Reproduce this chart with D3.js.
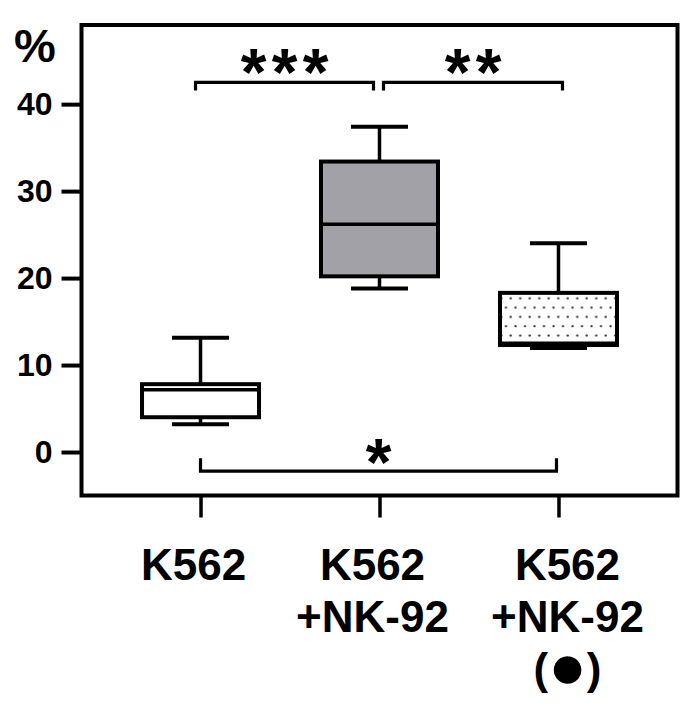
<!DOCTYPE html>
<html>
<head>
<meta charset="utf-8">
<script src="https://cdn.jsdelivr.net/npm/d3@7"></script>
<style>
html,body{margin:0;padding:0;background:#fff;}
svg{display:block;}
text{font-family:"Liberation Sans",Arial,sans-serif;font-weight:bold;fill:#000;}
</style>
</head>
<body>
<svg id="chart" width="696" height="711"></svg>
<script>
// ---- data ----
const categories = ["K562", "K562+NK-92", "K562+NK-92(●)"];
const labelLines = [["K562"], ["K562", "+NK-92"], ["K562", "+NK-92", "(●)"]];
const whiskerLow  = [3.2, 18.8, 11.95];
const q1          = [4.0, 20.2, 12.3];
const median      = [7.15, 26.2, 12.5];
const q3          = [7.8, 33.4, 18.3];
const whiskerHigh = [13.15, 37.4, 24.0];
const fills       = ["white", "gray", "dots"];
const yTicks = [0, 10, 20, 30, 40];
const yDomain = [-5, 49.1];
const yUnit = "%";
// significance brackets: [from category, to category, level (y value), stars]
const sigFrom  = [0, 1, 0];
const sigTo    = [1, 2, 2];
const sigLevel = [42.5, 42.5, -2.2];
const sigStars = ["***", "**", "*"];

// ---- layout ----
const svg = d3.select("#chart");
const frame = {left: 81.5, top: 25, right: 677.5, bottom: 495.5};

const y = d3.scaleLinear().domain(yDomain).range([frame.bottom, frame.top]);
const x = d3.scalePoint().domain(categories).range([frame.left, frame.right]).padding(0.665);

const boxW = 117, capW = 57;

// pattern for dotted box
const defs = svg.append("defs");
const pat = defs.append("pattern").attr("id", "dots").attr("patternUnits", "userSpaceOnUse")
  .attr("width", 9.5).attr("height", 18.6).attr("x", 0).attr("y", 5);
pat.append("rect").attr("width", 9.5).attr("height", 18.6).attr("fill", "#fff");
pat.append("circle").attr("cx", 2.5).attr("cy", 5).attr("r", 1.2).attr("fill", "#333");
pat.append("circle").attr("cx", 7.25).attr("cy", 14.3).attr("r", 1.2).attr("fill", "#333");

const fillFor = f => f === "gray" ? "#a2a1a7" : f === "dots" ? "url(#dots)" : "#fff";

// frame
svg.append("rect")
  .attr("x", frame.left).attr("y", frame.top)
  .attr("width", frame.right - frame.left).attr("height", frame.bottom - frame.top)
  .attr("fill", "none").attr("stroke", "#000").attr("stroke-width", 4);

// y axis
const yAxis = d3.axisLeft(y).tickValues(yTicks).tickSize(20).tickPadding(9).tickFormat(d3.format("d"));
const gy = svg.append("g").attr("transform", `translate(${frame.left},0)`).call(yAxis);
gy.select(".domain").remove();
gy.selectAll(".tick line").attr("stroke", "#000").attr("stroke-width", 4);
gy.selectAll(".tick text").attr("font-size", 32).attr("font-weight", "bold")
  .attr("font-family", '"Liberation Sans", Arial, sans-serif').attr("fill", "#000");

svg.append("text").attr("x", 14).attr("y", 62).attr("font-size", 47).text(yUnit);

// x axis
const xAxis = d3.axisBottom(x).tickSize(22).tickFormat("");
const gx = svg.append("g").attr("transform", `translate(0,${frame.bottom})`).call(xAxis);
gx.select(".domain").remove();
gx.selectAll(".tick line").attr("stroke", "#000").attr("stroke-width", 3.5);

const labelShift = [-7, -7, 9];
categories.forEach((c, i) => {
  labelLines[i].forEach((ln, j) => {
    const t = svg.append("text").attr("text-anchor", "middle").attr("font-size", 44)
      .attr("x", x(c) + labelShift[i]).attr("y", 580 + j * 52);
    if (ln.includes("●")) {
      const parts = ln.split("●");
      t.append("tspan").text(parts[0]);
      t.append("tspan").attr("font-size", 64).attr("dy", 4).text("●");
      t.append("tspan").attr("dy", -4).text(parts[1]);
    } else {
      t.text(ln);
    }
  });
});

// boxes
categories.forEach((c, i) => {
  const cx = x(c);
  const g = svg.append("g");
  g.append("line").attr("x1", cx).attr("x2", cx).attr("y1", y(q3[i])).attr("y2", y(whiskerHigh[i]))
    .attr("stroke", "#000").attr("stroke-width", 3.5);
  g.append("line").attr("x1", cx).attr("x2", cx).attr("y1", y(q1[i])).attr("y2", y(whiskerLow[i]))
    .attr("stroke", "#000").attr("stroke-width", 3.5);
  [whiskerHigh[i], whiskerLow[i]].forEach(v => {
    g.append("line").attr("x1", cx - capW / 2).attr("x2", cx + capW / 2).attr("y1", y(v)).attr("y2", y(v))
      .attr("stroke", "#000").attr("stroke-width", 4);
  });
  g.append("rect").attr("x", cx - boxW / 2).attr("width", boxW)
    .attr("y", y(q3[i])).attr("height", y(q1[i]) - y(q3[i]))
    .attr("fill", fillFor(fills[i])).attr("stroke", "#000").attr("stroke-width", 4);
  g.append("line").attr("x1", cx - boxW / 2).attr("x2", cx + boxW / 2)
    .attr("y1", y(median[i])).attr("y2", y(median[i]))
    .attr("stroke", "#000").attr("stroke-width", 3.5);
});

// significance brackets
const bracketInset = [[-5, -6], [4, 4], [0, -2]];
sigFrom.forEach((f, i) => {
  const x1 = x(categories[f]) + bracketInset[i][0];
  const x2 = x(categories[sigTo[i]]) + bracketInset[i][1];
  const yl = y(sigLevel[i]);
  const below = sigLevel[i] < 0;
  const tip = below ? -13 : 8;
  svg.append("path")
    .attr("d", `M${x1},${yl + tip}V${yl}H${x2}V${yl + tip}`)
    .attr("fill", "none").attr("stroke", "#000").attr("stroke-width", 3.2);
  const n = sigStars[i].length, sp = 31;
  const mid = (x1 + x2) / 2;
  for (let k = 0; k < n; k++) {
    svg.append("text").attr("text-anchor", "middle")
      .attr("x", mid + (k - (n - 1) / 2) * sp)
      .attr("y", yl + (below ? 14 : 13))
      .attr("font-size", 66).text("*");
  }
});
</script>
</body>
</html>
